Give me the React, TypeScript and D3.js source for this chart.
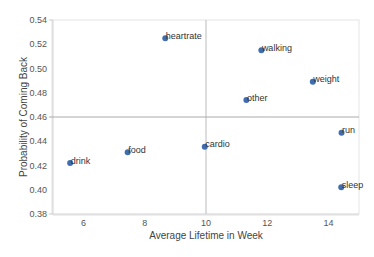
import React from "react";
import * as d3 from "d3";

const WIDTH = 374;
const HEIGHT = 257;
const MARGIN = { top: 20, right: 15, bottom: 43, left: 53 };

const activities = ["heartrate", "walking", "weight", "other", "run", "sleep", "cardio", "drink", "food"];
const lifetimeWeeks = [8.67, 11.81, 13.49, 11.32, 14.43, 14.42, 9.96, 5.56, 7.44];
const comeBackProb = [0.525, 0.515, 0.489, 0.474, 0.447, 0.402, 0.4355, 0.422, 0.431];

const xTicks = [6, 8, 10, 12, 14];
const yTicks = [0.38, 0.4, 0.42, 0.44, 0.46, 0.48, 0.5, 0.52, 0.54];
const xCross = 10;
const yCross = 0.46;

const FONT = "Liberation Sans, Arial, Helvetica, sans-serif";

export default function App() {
  const innerW = WIDTH - MARGIN.left - MARGIN.right;
  const innerH = HEIGHT - MARGIN.top - MARGIN.bottom;

  const x = d3.scaleLinear().domain([5, 15]).range([MARGIN.left, MARGIN.left + innerW]);
  const y = d3.scaleLinear().domain([0.38, 0.54]).range([MARGIN.top + innerH, MARGIN.top]);
  const fmt = d3.format(".2f");

  const points = activities.map((name, i) => ({
    name,
    lx: lifetimeWeeks[i],
    ly: comeBackProb[i],
  }));

  return (
    <svg
      width={WIDTH}
      height={HEIGHT}
      style={{ position: "absolute", left: 0, top: 0 }}
      fontFamily={FONT}
    >
      <rect width={WIDTH} height={HEIGHT} fill="#fff" />
      {/* frame: light top/right, heavier left/bottom axes */}
      <rect
        x={x(5)}
        y={y(0.54)}
        width={innerW}
        height={innerH}
        fill="none"
        stroke="#e4e4e4"
        strokeWidth={1}
      />
      <line x1={x(5)} x2={x(15)} y1={y(0.38) + 0.5} y2={y(0.38) + 0.5} stroke="#e0e0e0" strokeWidth={2} />
      <line x1={x(5) - 0.5} x2={x(5) - 0.5} y1={y(0.54)} y2={y(0.38)} stroke="#e0e0e0" strokeWidth={2} />
      <line x1={x(5) - 4} x2={x(5)} y1={y(0.54)} y2={y(0.54)} stroke="#ccc" />
      <line x1={x(5) - 4} x2={x(5)} y1={y(0.38)} y2={y(0.38)} stroke="#ccc" />
      <line x1={x(5) - 4} x2={x(5)} y1={y(yCross)} y2={y(yCross)} stroke="#aaa" />
      {/* crosshair */}
      <line x1={x(xCross)} x2={x(xCross)} y1={y(0.54)} y2={y(0.38)} stroke="#bbb" />
      <line x1={x(5)} x2={x(15)} y1={y(yCross)} y2={y(yCross)} stroke="#aaa" />

      <g fontSize={9} fill="#555">
        {yTicks.map((t) => (
          <text key={t} x={x(5) - 6} y={y(t)} dy="0.35em" textAnchor="end">
            {fmt(t)}
          </text>
        ))}
        {xTicks.map((t) => (
          <text key={t} x={x(t)} y={y(0.38) + 12} textAnchor="middle">
            {t}
          </text>
        ))}
      </g>

      <g fontSize={10} fill="#444">
        <text x={MARGIN.left + innerW / 2} y={239} textAnchor="middle">
          Average Lifetime in Week
        </text>
        <text
          transform={`translate(27,${MARGIN.top + innerH / 2}) rotate(-90)`}
          textAnchor="middle"
        >
          Probability of Coming Back
        </text>
      </g>

      <g>
        {points.map((p) => (
          <g key={p.name}>
            <circle cx={x(p.lx)} cy={y(p.ly)} r={3} fill="#3f6db0" />
            <text x={x(p.lx) + 0.5} y={y(p.ly) + 0.5} fontSize={9} fill="#333">
              {p.name}
            </text>
          </g>
        ))}
      </g>
    </svg>
  );
}
